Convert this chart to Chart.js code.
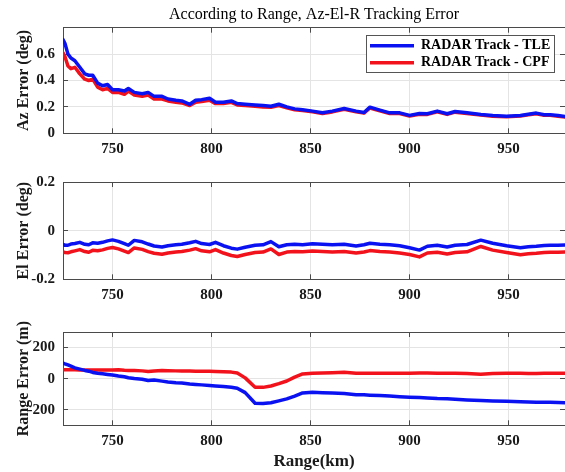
<!DOCTYPE html>
<html>
<head>
<meta charset="utf-8">
<script src="https://cdn.jsdelivr.net/npm/chart.js@4.4.0/dist/chart.umd.min.js"></script>
<style>
  body { margin: 0; background: #fff; }
  #wrap { position: relative; width: 565px; height: 472px; }
  canvas { position: absolute; left: 0; }
</style>
</head>
<body>
<div id="wrap">
  <canvas id="azChart" width="565" height="160" style="top:0"></canvas>
  <canvas id="elChart" width="565" height="150" style="top:160px"></canvas>
  <canvas id="rangeChart" width="565" height="162" style="top:310px"></canvas>
</div>
<script>
// range (km) sample positions, shared by all three panels
const rangeKm = [
    725, 726, 727.5, 729, 731, 733.5, 736, 738, 740, 742.5,
    745, 747.5, 750, 753, 756, 758, 761, 765, 768, 771,
    775, 778, 782, 785, 789, 792, 795, 799, 802, 806,
    810, 813, 817, 822, 826, 830, 834, 838, 842, 846,
    851, 856, 861, 867, 873, 877, 880, 885, 890, 895,
    900, 905, 909, 914, 919, 923, 929, 936, 942, 949,
    956, 960, 964, 968, 971, 975, 980
];

const azTle = [
    0.71, 0.68, 0.60, 0.57, 0.55, 0.50, 0.45, 0.44, 0.44, 0.38,
    0.36, 0.37, 0.33, 0.33, 0.32, 0.34, 0.31, 0.30, 0.31, 0.28,
    0.28, 0.26, 0.25, 0.245, 0.22, 0.25, 0.255, 0.265, 0.235, 0.235,
    0.245, 0.225, 0.22, 0.215, 0.21, 0.205, 0.22, 0.20, 0.185, 0.178,
    0.168, 0.155, 0.168, 0.188, 0.168, 0.158, 0.198, 0.176, 0.155, 0.155,
    0.136, 0.15, 0.148, 0.168, 0.148, 0.165, 0.155, 0.143, 0.135, 0.13,
    0.135, 0.145, 0.153, 0.14, 0.14, 0.135, 0.125
];
const azCpf = [
    0.61, 0.58, 0.51, 0.49, 0.50, 0.45, 0.41, 0.40, 0.41, 0.35,
    0.33, 0.34, 0.31, 0.31, 0.295, 0.32, 0.29, 0.28, 0.29, 0.26,
    0.26, 0.245, 0.235, 0.23, 0.21, 0.235, 0.24, 0.25, 0.225, 0.225,
    0.235, 0.215, 0.21, 0.205, 0.2, 0.198, 0.21, 0.193, 0.178, 0.172,
    0.163, 0.15, 0.162, 0.182, 0.163, 0.153, 0.192, 0.171, 0.15, 0.15,
    0.131, 0.145, 0.143, 0.163, 0.143, 0.16, 0.15, 0.138, 0.13, 0.126,
    0.131, 0.14, 0.148, 0.136, 0.136, 0.13, 0.121
];

const elTle = [
    -0.057, -0.06, -0.06, -0.055, -0.053, -0.048, -0.056, -0.058, -0.05, -0.052,
    -0.048, -0.042, -0.038, -0.044, -0.053, -0.06, -0.04, -0.046, -0.055, -0.063,
    -0.067, -0.062, -0.058, -0.056, -0.05, -0.044, -0.053, -0.057, -0.048, -0.062,
    -0.072, -0.076, -0.068, -0.06, -0.058, -0.045, -0.066, -0.058, -0.056, -0.058,
    -0.054, -0.056, -0.058, -0.056, -0.063, -0.058, -0.052, -0.056, -0.058, -0.062,
    -0.07, -0.08, -0.064, -0.06, -0.067, -0.06, -0.057, -0.039, -0.052, -0.062,
    -0.07, -0.066, -0.064, -0.061, -0.06, -0.06, -0.058
];
const elCpf = [
    -0.088, -0.09, -0.091, -0.087, -0.083, -0.078, -0.086, -0.089, -0.081, -0.083,
    -0.079, -0.073, -0.069, -0.075, -0.084, -0.09, -0.071, -0.077, -0.086, -0.093,
    -0.097, -0.092, -0.088, -0.086, -0.08, -0.074, -0.083, -0.087, -0.078, -0.092,
    -0.102, -0.106, -0.098, -0.09, -0.088, -0.075, -0.098, -0.088, -0.086, -0.087,
    -0.084, -0.086, -0.088, -0.086, -0.092, -0.088, -0.082, -0.086, -0.088, -0.092,
    -0.098, -0.108, -0.092, -0.089, -0.096, -0.09, -0.087, -0.065, -0.08, -0.09,
    -0.099, -0.095, -0.093, -0.09, -0.089, -0.089, -0.087
];

const rangeTle = [
    100, 95, 88, 80, 69, 61, 53, 48, 40, 35,
    31, 27, 23, 17, 12, 6, 1, -4, -12, -9,
    -16, -21, -26, -28, -34, -37, -40, -44, -47, -50,
    -55, -62, -90, -158, -160, -155, -143, -130, -112, -92,
    -88, -91, -93, -96, -103, -104, -106, -109, -112, -116,
    -119, -122, -124, -128, -130, -132, -137, -141, -143, -146,
    -148, -150, -151, -152, -152, -153, -155
];
const rangeCpf = [
    58, 58, 57, 57, 57, 56, 56, 56, 55, 55,
    55, 55, 56, 57, 54, 53, 52, 50, 46, 49,
    52, 51, 50, 50, 49, 48, 48, 47, 46, 45,
    42, 36, 5, -55, -56, -47, -32, -15, 10, 30,
    35, 36, 38, 41, 34, 34, 35, 34, 35, 35,
    35, 36, 36, 35, 34, 35, 33, 29, 33, 34,
    34, 33, 33, 34, 34, 34, 34
];

const seriesNames = ['RADAR Track - TLE', 'RADAR Track - CPF'];
const rangeTicks = [750, 800, 850, 900, 950];
const azTicks = [0, 0.2, 0.4, 0.6];
const elTicks = [-0.2, 0, 0.2];
const rangeErrTicks = [-200, 0, 200];

const SERIF = "'Liberation Serif', 'Times New Roman', serif";
const PLOT_LEFT = 63;
const X_MIN = 725;
const X_MAX = 978.5;
const GRID = '#e4e4e4';
const AXIS = '#4a4a4a';
const INK = '#1a1a1a';
const TICK_IN = -5;   // MATLAB style inward tick marks

Chart.defaults.font.family = SERIF;

function toPoints(ys) {
    return rangeKm.map((x, i) => ({ x: x, y: ys[i] }));
}

// legend sits inside the top-right of the plot with a white framed box
const legendBoxPlugin = {
    id: 'legendBox',
    afterLayout(chart) {
        const ca = chart.chartArea;
        const lg = chart.legend;
        lg.left = ca.right - 198;
        lg.top = ca.top + 7.3;
        lg.right = ca.right - 9;
        lg.bottom = ca.top + 46;
        lg.width = lg.right - lg.left;
        lg.height = lg.bottom - lg.top;
    },
    afterDatasetsDraw(chart) {
        const ctx = chart.ctx;
        const ca = chart.chartArea;
        ctx.save();
        ctx.fillStyle = '#fff';
        ctx.strokeStyle = '#555';
        ctx.lineWidth = 1;
        ctx.fillRect(ca.right - 199, ca.top + 7.3, 189, 38);
        ctx.strokeRect(ca.right - 198.5, ca.top + 7.8, 188, 37);
        ctx.restore();
        chart.legend.draw(chart.chartArea);
    }
};

function tickFont() {
    return { family: SERIF, size: 15, weight: 'bold' };
}

// box side (top / right) with ticks only, no labels
function sideAxis(position, min, max, ticks) {
    const horizontal = position === 'top';
    return {
        type: 'linear',
        position: position,
        min: min,
        max: max,
        afterBuildTicks: s => { s.ticks = ticks.map(v => ({ value: v })); },
        afterFit: s => { if (horizontal) s.height = 0; else s.width = 0; },
        ticks: { display: false },
        grid: { drawOnChartArea: false, drawTicks: true, tickLength: TICK_IN, tickColor: AXIS, tickWidth: 1 },
        border: { display: horizontal, color: AXIS, width: 1 }
    };
}

function buildChart(id, cfg) {
    const datasets = [
        { label: seriesNames[0], data: toPoints(cfg.tle), borderColor: '#0b12f2', xAxisID: 'x', yAxisID: 'y' },
        { label: seriesNames[1], data: toPoints(cfg.cpf), borderColor: '#f2121c', xAxisID: 'x', yAxisID: 'y' }
    ];
    datasets.forEach(d => {
        d.borderWidth = 3.5;
        d.pointRadius = 0;
        d.tension = 0;
        d.borderJoinStyle = 'round';
        d.borderCapStyle = 'round';
    });

    return new Chart(document.getElementById(id), {
        type: 'line',
        data: { datasets: datasets },
        options: {
            responsive: false,
            animation: false,
            events: [],
            layout: { padding: { top: cfg.padTop, left: 0, right: 0, bottom: 0 } },
            plugins: {
                tooltip: { enabled: false },
                title: cfg.title ? {
                    display: true,
                    text: cfg.title,
                    fullSize: false,
                    color: '#000',
                    font: { family: SERIF, size: 16, weight: 'normal' },
                    padding: { top: 5.5, bottom: 3 }
                } : { display: false },
                legend: cfg.legend ? {
                    display: true,
                    position: 'chartArea',
                    labels: {
                        usePointStyle: true,
                        pointStyle: 'line',
                        pointStyleWidth: 44,
                        boxHeight: 14,
                        padding: 3,
                        color: '#000',
                        font: { family: SERIF, size: 14, weight: 'bold' }
                    }
                } : { display: false }
            },
            scales: {
                x: {
                    type: 'linear',
                    position: 'bottom',
                    min: X_MIN,
                    max: X_MAX,
                    afterBuildTicks: s => { s.ticks = rangeTicks.map(v => ({ value: v })); },
                    afterFit: s => { s.height = cfg.xAxisHeight; },
                    grid: { color: GRID, drawTicks: true, tickLength: TICK_IN, tickColor: AXIS },
                    border: { color: AXIS, width: 1 },
                    ticks: {
                        padding: 12,
                        maxRotation: 0,
                        color: INK,
                        font: tickFont(),
                        callback: v => String(+v.toFixed(2))
                    },
                    title: cfg.xTitle ? {
                        display: true,
                        text: cfg.xTitle,
                        color: INK,
                        padding: { top: 0, bottom: 0 },
                        font: { family: SERIF, size: 17, weight: 'bold' }
                    } : { display: false }
                },
                xTop: sideAxis('top', X_MIN, X_MAX, rangeTicks),
                y: {
                    type: 'linear',
                    position: 'left',
                    min: cfg.yMin,
                    max: cfg.yMax,
                    afterBuildTicks: s => { s.ticks = cfg.yTicks.map(v => ({ value: v })); },
                    afterFit: s => { s.width = PLOT_LEFT; },
                    grid: { color: GRID, drawTicks: true, tickLength: TICK_IN, tickColor: AXIS },
                    border: { color: AXIS, width: 1 },
                    ticks: {
                        padding: 13,
                        color: INK,
                        font: tickFont(),
                        callback: v => String(+v.toFixed(2))
                    },
                    title: {
                        display: true,
                        text: cfg.yTitle,
                        color: INK,
                        padding: { top: 14, bottom: 0 },
                        font: { family: SERIF, size: 16, weight: 'bold' }
                    }
                },
                yRight: sideAxis('right', cfg.yMin, cfg.yMax, cfg.yTicks)
            }
        },
        plugins: cfg.legend ? [legendBoxPlugin] : []
    });
}

buildChart('azChart', {
    tle: azTle, cpf: azCpf,
    yMin: 0, yMax: 0.8, yTicks: azTicks,
    yTitle: 'Az Error (deg)',
    title: 'According to Range, Az-El-R Tracking Error',
    legend: true,
    padTop: 0,
    xAxisHeight: 26.7
});

buildChart('elChart', {
    tle: elTle, cpf: elCpf,
    yMin: -0.2, yMax: 0.2, yTicks: elTicks,
    yTitle: 'El Error (deg)',
    padTop: 14.3,
    xAxisHeight: 30.7
});

buildChart('rangeChart', {
    tle: rangeTle, cpf: rangeCpf,
    yMin: -300, yMax: 300, yTicks: rangeErrTicks,
    yTitle: 'Range Error (m)',
    xTitle: 'Range(km)',
    padTop: 10.7,
    xAxisHeight: 46.7
});
</script>
</body>
</html>
